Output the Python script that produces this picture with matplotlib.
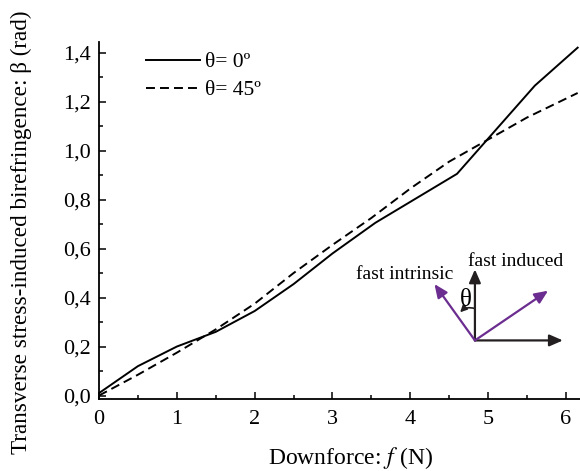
import matplotlib
matplotlib.use("Agg")
import matplotlib.pyplot as plt
from matplotlib.ticker import MultipleLocator, FuncFormatter

plt.rcParams['font.family'] = ['Liberation Serif', 'DejaVu Serif']
plt.rcParams['mathtext.fontset'] = 'stix'

# theta = 0 deg (solid)
f_0 = [0, 0.5, 1.0, 1.5, 2.0, 2.5, 3.0, 3.55, 4.6, 5.6, 6.15]
beta_0 = [0.01, 0.12, 0.20, 0.26, 0.345, 0.455, 0.58, 0.705, 0.905, 1.265, 1.42]

# theta = 45 deg (dashed)
f_45 = [0, 0.5, 1.0, 1.5, 2.0, 2.5, 3.0, 3.5, 4.0, 4.5, 5.0, 5.5, 6.15]
beta_45 = [0.0, 0.085, 0.175, 0.27, 0.375, 0.50, 0.615, 0.725, 0.845, 0.955, 1.045, 1.135, 1.235]

labels = ['θ= 0º', 'θ= 45º']

fig = plt.figure(figsize=(5.8, 4.71), dpi=100)
ax = fig.add_axes([0.1707, 0.1529, 0.8293, 0.7579])

ax.plot(f_0, beta_0, color='black', lw=1.4, label=labels[0])
ax.plot(f_45, beta_45, color='black', lw=1.4, dashes=(4.6, 2.6), label=labels[1])

ax.set_xlim(0, 6.18)
ax.set_ylim(-0.014, 1.443)
ax.xaxis.set_major_locator(MultipleLocator(1))
ax.xaxis.set_minor_locator(MultipleLocator(0.5))
ax.yaxis.set_major_locator(MultipleLocator(0.2))
ax.yaxis.set_minor_locator(MultipleLocator(0.1))
ax.yaxis.set_major_formatter(FuncFormatter(lambda v, p: f'{v:.1f}'.replace('.', ',')))

for s in ['top', 'right']:
    ax.spines[s].set_visible(False)
for s in ['left', 'bottom']:
    ax.spines[s].set_linewidth(1.3)
ax.tick_params(which='both', direction='in', width=1.1, labelsize=16, colors='black')
ax.tick_params(which='major', length=5)
ax.tick_params(which='minor', length=3)
ax.tick_params(axis='x', pad=8)
ax.tick_params(axis='y', pad=6)

ax.set_xlabel('Downforce: $\\mathit{f}$ (N)', fontsize=17)
ax.xaxis.set_label_coords(0.522, -0.128)
ax.set_ylabel('Transverse stress-induced birefringence: β (rad)', fontsize=16.7)
ax.yaxis.set_label_coords(-0.139, 0.468)

leg = ax.legend(loc='upper left', bbox_to_anchor=(0.098, 0.971), frameon=False,
                fontsize=15.5, handlelength=2.5, handletextpad=0.25, labelspacing=0.35,
                borderpad=0, borderaxespad=0)

# inset sketch of the axes
o = (4.83, 0.225)
blk = '#231f20'
pur = '#6b2d8f'
arr = dict(arrowstyle='-|>,head_length=0.8,head_width=0.35', lw=1.6, shrinkA=0, shrinkB=0)
ax.annotate('', xy=(5.96, o[1]), xytext=o, arrowprops=dict(arr, color=blk))
ax.annotate('', xy=(o[0], 0.515), xytext=o, arrowprops=dict(arr, color=blk))
ax.annotate('', xy=(4.31, 0.455), xytext=o, arrowprops=dict(arr, color=pur))
ax.annotate('', xy=(5.77, 0.428), xytext=o, arrowprops=dict(arr, color=pur))
ax.annotate('', xy=(4.64, 0.34), xytext=(o[0], 0.355),
            arrowprops=dict(arrowstyle='-|>,head_length=0.4,head_width=0.2', lw=1.2,
                            color=blk, connectionstyle='arc3,rad=0.3', shrinkA=0, shrinkB=0))
ax.text(4.71, 0.39, 'θ', fontsize=18, ha='center', va='center')
ax.text(4.74, 0.53, 'fast induced', fontsize=14, ha='left', va='baseline')
ax.text(4.55, 0.475, 'fast intrinsic', fontsize=14, ha='right', va='baseline')

plt.savefig('out.png', dpi=100)
